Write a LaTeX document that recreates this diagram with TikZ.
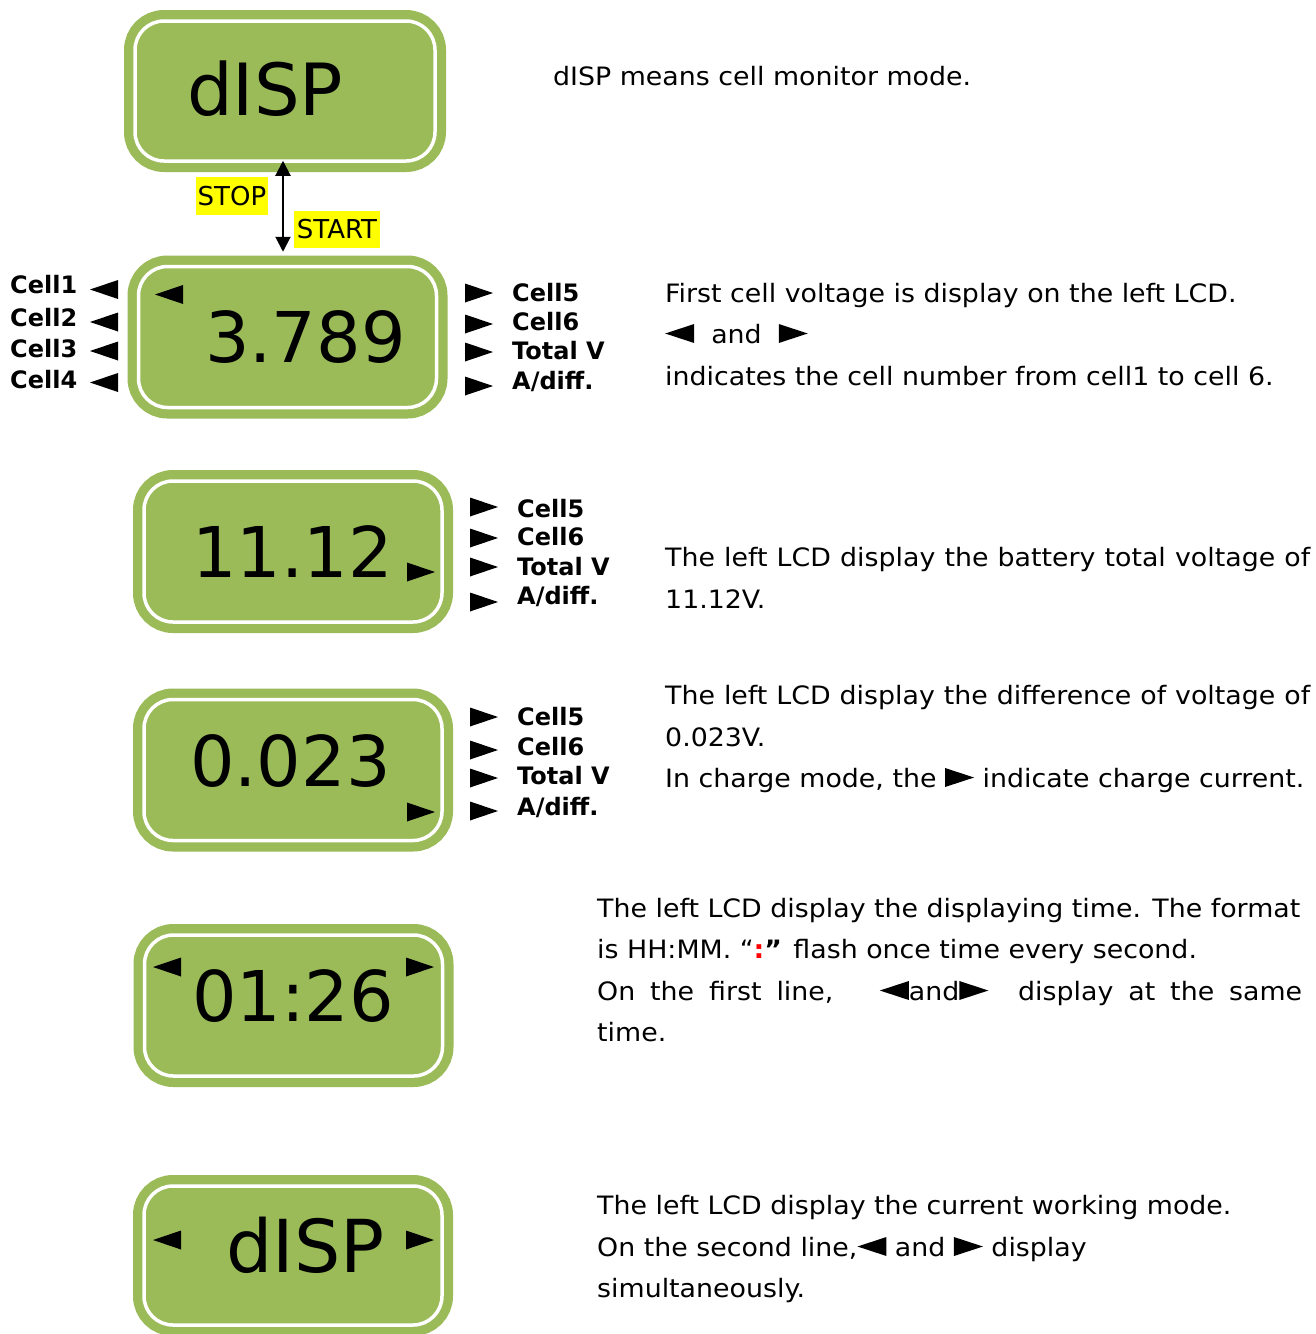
\documentclass[tikz,border=0pt]{standalone}
\usepackage{fontspec}
\setmainfont{DejaVu Sans}
\newfontfamily\txtfont[FakeStretch=1.06]{DejaVu Sans}
\usetikzlibrary{arrows.meta}

\definecolor{lcdgreen}{HTML}{9BBB59}
\definecolor{hiyellow}{HTML}{FFFF00}

% inline pointer triangles for running text
\newcommand\ltri{\tikz[x=1pt,y=1pt,baseline=0pt]\fill (0,9.5)--(29,19)--(29,0)--cycle;}
\newcommand\rtri{\tikz[x=1pt,y=1pt,baseline=0pt]\fill (0,0)--(0,19)--(29,9.5)--cycle;}
% pointer triangles in the picture: tip x, centre y
\newcommand\ptrleft[2]{\fill (#1,#2)--++(28,-9.5)--++(0,19)--cycle;}
\newcommand\ptrright[2]{\fill (#1,#2)--++(-28,-9.5)--++(0,19)--cycle;}

\tikzset{
  lcd/.style={draw=white, line width=3.5pt, fill=lcdgreen, rounded corners=29pt,
    inner sep=0pt, minimum width=298pt, minimum height=141pt,
    preaction={draw=lcdgreen, line width=22pt}},
  digits/.style={font=\fontsize{70}{70}\selectfont, inner sep=0pt, anchor=base west},
  lbl/.style={font=\fontsize{24}{24}\selectfont\bfseries, inner sep=0pt, anchor=base west},
  para/.style={font=\txtfont\fontsize{25.3}{30}\selectfont, inner sep=0pt, anchor=base west},
  hl/.style={fill=hiyellow, inner sep=0pt, font=\fontsize{26}{26}\selectfont},
}

\begin{document}
\begin{tikzpicture}[x=1pt,y=-1pt]
\useasboundingbox[fill=white] (0,0) rectangle (1316,1334);

% ---- mode screen and start/stop ----
\node[lcd, minimum width=300pt, minimum height=140pt] (b1) at (285,91) {};
\node[digits, font=\fontsize{72}{72}\selectfont] (b1t) at (187,115) {dISP};
\node[para] (p1) at (553,85) {dISP means cell monitor mode.};

\node[lcd] (b2) at (287.5,337) {};
\draw[line width=2pt, {Triangle[length=15pt,width=15pt]}-{Triangle[length=15pt,width=15pt]}]
  ([xshift=-2pt,yshift=2pt]b1.south) -- ([xshift=-4.5pt,yshift=13pt]b2.north);
\node[hl, minimum width=72pt, minimum height=38pt] (stop) at (232,196) {STOP};
\node[hl, minimum width=86pt, minimum height=37pt] (start) at (337,229.5) {START};

% ---- cell voltage screen ----
\node[digits] (b2t) at (205,362) {3.789};
\ptrleft{155}{294.5}
\node[lbl] (c1) at (10,293) {Cell1};
\node[lbl] (c2) at (10,326) {Cell2};
\node[lbl] (c3) at (10,357) {Cell3};
\node[lbl] (c4) at (10,388) {Cell4};
\ptrleft{90}{289.5}
\ptrleft{90}{322}
\ptrleft{90}{351}
\ptrleft{90}{382.5}
\ptrright{493}{293}
\ptrright{493}{324}
\ptrright{493}{352}
\ptrright{493}{386}
\node[lbl] (c5a) at (512,301) {Cell5};
\node[lbl] (c6a) at (512,330) {Cell6};
\node[lbl] (tva) at (512,359) {Total V};
\node[lbl] (ada) at (512,389) {A/diff.};
\node[para] (p2a) at (665,302) {First cell voltage is display on the left LCD.};
\node[para] (p2b) at (665,343) {\ltri\ \ and \ \rtri};
\node[para] (p2c) at (665,385) {indicates the cell number from cell1 to cell 6.};

% ---- total voltage screen ----
\node[lcd] (b3) at (293,551.5) {};
\node[digits] (b3t) at (192,577) {11.12};
\ptrright{435}{572}
\ptrright{498}{507}
\ptrright{498}{538}
\ptrright{498}{567}
\ptrright{498}{602}
\node[lbl] (c5b) at (517,517) {Cell5};
\node[lbl] (c6b) at (517,545) {Cell6};
\node[lbl] (tvb) at (517,575) {Total V};
\node[lbl] (adb) at (517,604) {A/diff.};
\node[para] (p3a) at (665,566) {\makebox[645pt][s]{The left LCD display the battery total voltage of}};
\node[para] (p3b) at (665,608) {11.12V.};

% ---- voltage difference screen ----
\node[lcd] (b4) at (293,770) {};
\node[digits] (b4t) at (190,786) {0.023};
\ptrright{435}{812}
\ptrright{498}{717}
\ptrright{498}{750}
\ptrright{498}{778}
\ptrright{498}{811}
\node[lbl] (c5c) at (517,725) {Cell5};
\node[lbl] (c6c) at (517,755) {Cell6};
\node[lbl] (tvc) at (517,784) {Total V};
\node[lbl] (adc) at (517,815) {A/diff.};
\node[para] (p4a) at (665,704) {\makebox[645pt][s]{The left LCD display the difference of voltage of}};
\node[para] (p4b) at (665,746) {0.023V.};
\node[para] (p4c) at (665,787) {In charge mode, the \rtri\ indicate charge current.};

% ---- time screen ----
\node[lcd] (b5) at (293.5,1005.5) {};
\node[digits] (b5t) at (192,1021) {01:26};
\ptrleft{153}{967}
\ptrright{434}{967}
\node[para] (p5a) at (597,917) {The left LCD display the displaying time. The format};
\node[para] (p5b) at (597,958) {is HH:MM. “\textcolor{red}{\bfseries :}\textbf{”} flash once time every second.};
\node[para] (p5c) at (597,1000) {\makebox[705pt][s]{On the first line, \ \ \ltri and\rtri\ \ display at the same}};
\node[para] (p5d) at (597,1041) {time.};

% ---- working mode screen ----
\node[lcd, minimum height=139pt] (b6) at (293,1255.5) {};
\node[digits, font=\fontsize{73}{73}\selectfont] (b6t) at (226,1272) {dISP};
\ptrleft{153}{1240}
\ptrright{434}{1240}
\node[para] (p6a) at (597,1214) {The left LCD display the current working mode.};
\node[para] (p6b) at (597,1256) {On the second line,\ltri\ and \rtri\ display};
\node[para] (p6c) at (597,1297) {simultaneously.};
\end{tikzpicture}
\end{document}
